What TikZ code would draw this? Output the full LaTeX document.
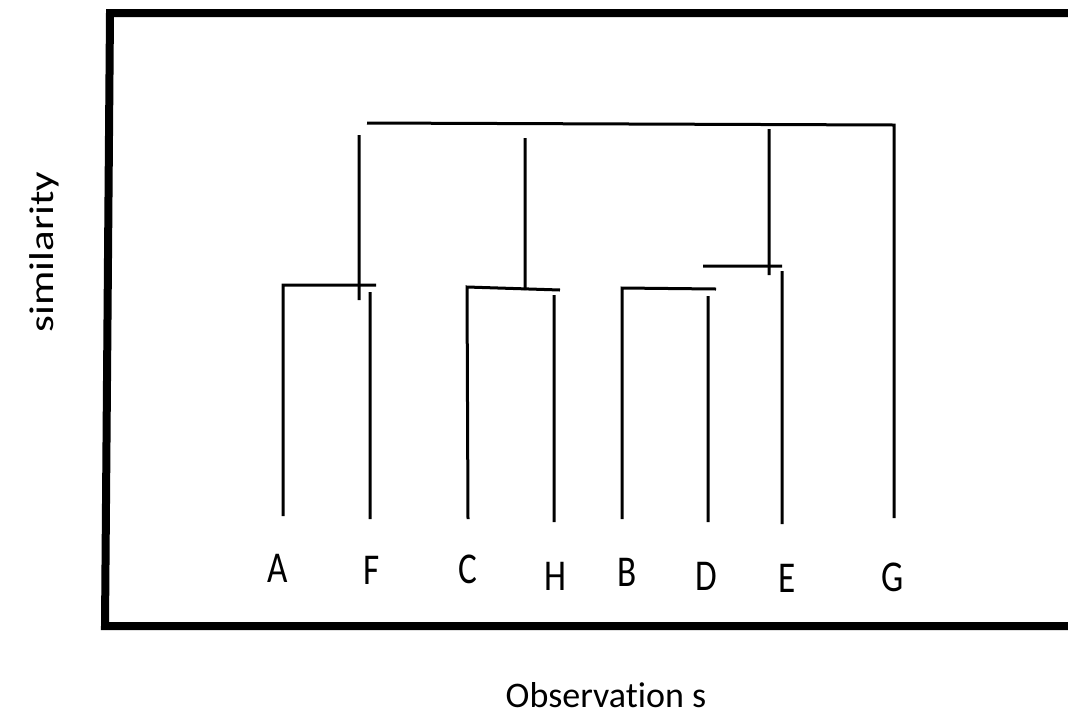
\documentclass[tikz,border=0pt]{standalone}
\usepackage{fontspec}
\setmainfont[Ligatures=NoCommon]{Carlito}
\tikzset{
  leaf/.style={font=\fontsize{44}{48}\selectfont, inner sep=0pt},
  axislab/.style={font=\fontsize{36}{40}\selectfont, inner sep=0pt}
}
\newcommand{\leaftext}[1]{\scalebox{0.8}[1]{#1}}
\begin{document}
\begin{tikzpicture}[x=1pt,y=-1pt,line width=3pt]
\useasboundingbox (0,0) rectangle (1068,716);

% frame
\draw[line width=8pt]
(1068,13) -- (110,13) -- (105,626) -- (1068,626);

% leaf points
\coordinate (a) at (283,516);
\coordinate (f) at (370,519);
\coordinate (c) at (468,519);
\coordinate (h) at (554,522);
\coordinate (b) at (622,519);
\coordinate (d) at (708,522);
\coordinate (e) at (782,524);
\coordinate (g) at (894,518);

% clusters
\draw
(a) -- (283,285) -- (376,285)
(f) -- (370,292)
(c) -- (467,287) -- (560,290)
(h) -- (554,295)
(b) -- (622,288) -- (716,289)
(d) -- (708,296)
(703,266) -- (782,266)
(e) -- (782,271);

% stems and top
\draw
(359,135) -- (359,300)
(525,138) -- (525,290)
(769,129) -- (769,275)
(367,123) -- (894,125) -- (g);

% labels
\node[leaf] (A) at (278,568) {\leaftext{A}};
\node[leaf] (F) at (372,570) {\leaftext{F}};
\node[leaf] (C) at (468,569) {\leaftext{C}};
\node[leaf] (H) at (555,576) {\leaftext{H}};
\node[leaf] (B) at (627,572) {\leaftext{B}};
\node[leaf] (D) at (706,576) {\leaftext{D}};
\node[leaf] (E) at (787,578) {\leaftext{E}};
\node[leaf] (G) at (893,577) {\leaftext{G}};

\node[axislab, anchor=base] (obs) at (606,707) {Observation s};
\node[font=\fontsize{43}{46}\selectfont, inner sep=0pt, anchor=base, rotate=90] (sim) at (53,252) {\scalebox{1}[0.8]{similarity}};

\end{tikzpicture}
\end{document}
